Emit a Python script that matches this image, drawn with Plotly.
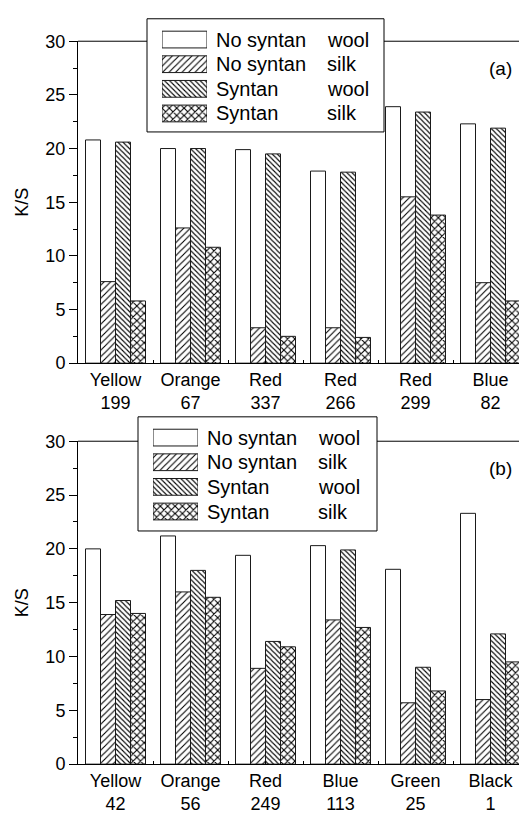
import plotly.graph_objects as go

# ---------------- data ----------------
categories_a = ["Yellow<br>199", "Orange<br>67", "Red<br>337", "Red<br>266", "Red<br>299", "Blue<br>82"]
a_nosyn_wool = [20.8, 20.0, 19.9, 17.9, 23.9, 22.3]
a_nosyn_silk = [7.6, 12.6, 3.3, 3.3, 15.5, 7.5]
a_syn_wool = [20.6, 20.0, 19.5, 17.8, 23.4, 21.9]
a_syn_silk = [5.8, 10.8, 2.5, 2.4, 13.8, 5.8]

categories_b = ["Yellow<br>42", "Orange<br>56", "Red<br>249", "Blue<br>113", "Green<br>25", "Black<br>1"]
b_nosyn_wool = [20.0, 21.2, 19.4, 20.3, 18.1, 23.3]
b_nosyn_silk = [13.9, 16.0, 8.9, 13.4, 5.7, 6.0]
b_syn_wool = [15.2, 18.0, 11.4, 19.9, 9.0, 12.1]
b_syn_silk = [14.0, 15.5, 10.9, 12.7, 6.8, 9.5]

legend_treat = ["No syntan", "No syntan", "Syntan", "Syntan"]
legend_fibre = ["wool", "silk", "wool", "silk"]
panel_labels = ["(a)", "(b)"]

# ---------------- styling ----------------
FONT = "Liberation Sans, Arial, sans-serif"
W, H = 519, 820
ML = 78
PW = W - ML


def PX(x):
    return (x - ML) / PW


def PY(y):
    return 1 - y / H


patterns = ["", "/", "\\", "x"]
psizes = [6, 4.6, 3.6, 5.2]
psolid = [0.2, 0.24, 0.3, 0.38]
names = [f"{t} {f}" for t, f in zip(legend_treat, legend_fibre)]

fig = go.Figure()

panels = [
    (categories_a, [a_nosyn_wool, a_nosyn_silk, a_syn_wool, a_syn_silk], "x", "y"),
    (categories_b, [b_nosyn_wool, b_nosyn_silk, b_syn_wool, b_syn_silk], "x2", "y2"),
]

for cats, series, xa, ya in panels:
    xs = list(range(len(cats)))
    for i, vals in enumerate(series):
        fig.add_trace(go.Bar(
            x=xs, y=vals, name=names[i], xaxis=xa, yaxis=ya,
            marker=dict(color="white",
                        line=dict(color="#1a1a1a", width=1),
                        pattern=dict(shape=patterns[i], fgcolor="black", bgcolor="white",
                                     size=psizes[i], solidity=psolid[i], fillmode="replace")),
            showlegend=False,
        ))

# legend swatches (inset axes)
rows = list(range(len(legend_treat)))
for xa, ya in [("x3", "y3"), ("x4", "y4")]:
    fig.add_trace(go.Bar(
        x=[1] * len(rows), y=rows, orientation="h", width=0.68,
        xaxis=xa, yaxis=ya, showlegend=False, hoverinfo="skip",
        marker=dict(color="white", line=dict(color="#1a1a1a", width=1),
                    pattern=dict(shape=patterns, fgcolor="black", bgcolor="white",
                                 size=psizes, solidity=psolid, fillmode="replace")),
    ))

# geometry (pixels from top/left)
pan_geo = [
    dict(top=32, bot=362, box=(147, 9, 384, 125), sw=(162, 207), txt1=215, txt2=326, c0=30.3),
    dict(top=442, bot=773, box=(138, 417, 377, 534), sw=(153, 198), txt1=206, txt2=317, c0=438.3),
]
pitch = 25.25

yax_common = dict(range=[0, 30], dtick=5, ticks="outside", ticklen=8, tickwidth=1,
                  tickcolor="black", showline=True, linecolor="black", linewidth=1,
                  showgrid=False, zeroline=False,
                  minor=dict(dtick=2.5, ticks="outside", ticklen=4, tickcolor="black"),
                  tickfont=dict(family=FONT, size=18, color="black"),
                  title=dict(text="K/S", font=dict(family=FONT, size=18, color="black"), standoff=12))


def xax(cats, anchor):
    return dict(range=[-0.5, PW / 75 - 0.5], tickmode="array",
                tickvals=list(range(len(cats))), ticktext=cats,
                ticks="inside", ticklen=3, tickcolor="black",
                minor=dict(tickvals=[i + 0.5 for i in range(len(cats))], ticks="inside",
                           ticklen=3, tickcolor="black"),
                showline=True, linecolor="black", linewidth=1, showgrid=False,
                zeroline=False, anchor=anchor, domain=[0, 1],
                tickfont=dict(family=FONT, size=18, color="black"))


g0, g1 = pan_geo
layout = dict(
    width=W, height=H, margin=dict(l=ML, r=0, t=0, b=0),
    paper_bgcolor="white", plot_bgcolor="rgba(0,0,0,0)",
    barmode="group", bargap=0.2, bargroupgap=0,
    showlegend=False,
    xaxis=xax(categories_a, "y"),
    yaxis=dict(yax_common, domain=[PY(g0["bot"]), PY(g0["top"])], anchor="x"),
    xaxis2=xax(categories_b, "y2"),
    yaxis2=dict(yax_common, domain=[PY(g1["bot"]), PY(g1["top"])], anchor="x2"),
)

shapes = []
annotations = []
for k, g in enumerate(pan_geo):
    n = 3 + k
    x0, y0, x1, y1 = g["box"]
    sx0, sx1 = g["sw"]
    ytop = g["c0"] - pitch / 2
    ybot = g["c0"] + pitch * 3.5
    layout[f"xaxis{n}"] = dict(domain=[PX(sx0), PX(sx1)], range=[0, 1], visible=False,
                               anchor=f"y{n}", fixedrange=True)
    layout[f"yaxis{n}"] = dict(domain=[PY(ybot), PY(ytop)], range=[3.5, -0.5], visible=False,
                               anchor=f"x{n}", fixedrange=True)
    # legend box
    shapes.append(dict(type="rect", xref="paper", yref="paper", layer="below",
                       x0=PX(x0), x1=PX(x1), y0=PY(y1), y1=PY(y0),
                       fillcolor="white", line=dict(color="black", width=1)))
    # top frame line, interrupted by the legend box
    shapes.append(dict(type="line", xref="paper", yref="paper",
                       x0=0, x1=PX(x0), y0=PY(g["top"]), y1=PY(g["top"]),
                       line=dict(color="black", width=1)))
    shapes.append(dict(type="line", xref="paper", yref="paper",
                       x0=PX(x1), x1=1, y0=PY(g["top"]), y1=PY(g["top"]),
                       line=dict(color="black", width=1)))
    for r in rows:
        yc = PY(g["c0"] + pitch * r)
        annotations.append(dict(text=legend_treat[r], x=PX(g["txt1"]), y=yc, xref="paper",
                                yref="paper", xanchor="left", yanchor="middle", showarrow=False,
                                font=dict(family=FONT, size=20, color="black"), borderpad=0))
        annotations.append(dict(text=legend_fibre[r], x=PX(g["txt2"]), y=yc, xref="paper",
                                yref="paper", xanchor="left", yanchor="middle", showarrow=False,
                                font=dict(family=FONT, size=20, color="black"), borderpad=0))
    annotations.append(dict(text=panel_labels[k], x=PX(513), y=PY(g["top"] + 28), xref="paper",
                            yref="paper", xanchor="right", yanchor="middle", showarrow=False,
                            font=dict(family=FONT, size=19, color="black"), borderpad=0))

layout["shapes"] = shapes
layout["annotations"] = annotations
fig.update_layout(**layout)

fig.write_html("out.html")
